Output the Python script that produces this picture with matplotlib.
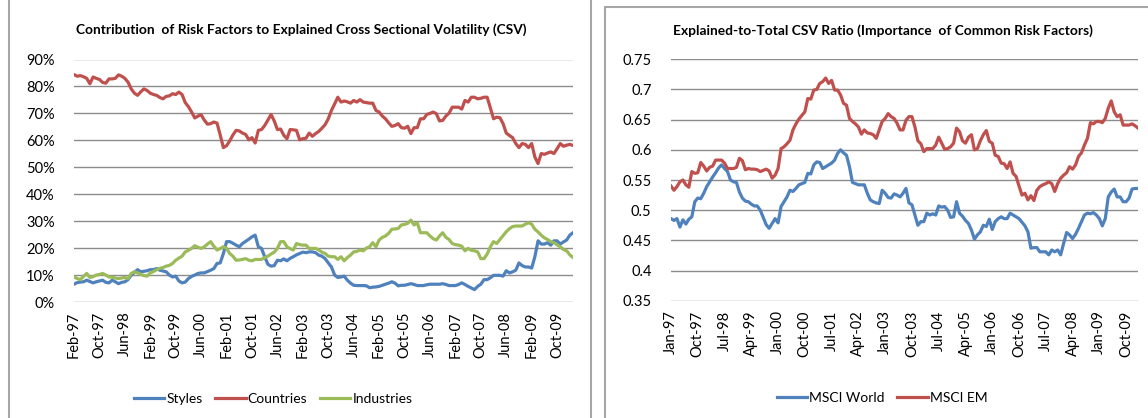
import numpy as np
import pandas as pd
import matplotlib
matplotlib.use('Agg')
import matplotlib.pyplot as plt
from matplotlib.patches import Rectangle
from matplotlib.ticker import FuncFormatter

plt.rcParams['font.family'] = ['Lato', 'DejaVu Sans']

# ---- left chart: contribution of risk factors (monthly, from Feb-97) ----
countries = [84.4, 83.8, 84.0, 83.6, 83.0, 81.0, 83.5, 83.0, 82.6, 81.5,
             81.2, 82.8, 82.8, 83.0, 84.3, 83.8, 83.0, 81.6, 79.1, 77.5,
             76.7, 78.0, 79.1, 78.5, 77.5, 77.0, 76.7, 75.9, 75.4, 76.3,
             76.5, 77.3, 77.0, 77.9, 77.0, 74.0, 72.5, 70.5, 68.3, 69.0,
             69.5, 67.5, 66.0, 66.2, 66.8, 66.4, 62.0, 57.3, 58.0, 59.8,
             62.0, 63.7, 63.5, 62.7, 62.2, 60.2, 61.0, 59.0, 63.7, 64.0,
             65.5, 67.5, 69.6, 67.2, 64.0, 64.2, 61.9, 60.6, 64.0, 63.9,
             63.7, 60.2, 60.6, 60.8, 62.7, 61.5, 62.5, 63.3, 64.5, 65.8,
             68.0, 71.1, 73.5, 76.0, 74.2, 74.6, 74.3, 73.8, 74.8, 74.2,
             75.1, 74.2, 74.0, 73.8, 73.8, 71.1, 70.5, 69.0, 68.0, 66.5,
             65.2, 65.5, 66.2, 64.7, 64.5, 65.2, 62.5, 64.7, 64.7, 68.0,
             68.0, 69.6, 70.0, 70.5, 69.9, 67.2, 67.4, 69.0, 70.1, 72.3,
             72.3, 72.3, 71.6, 74.8, 74.2, 76.0, 76.0, 75.4, 75.6, 76.0,
             76.0, 72.0, 68.0, 68.6, 68.4, 66.2, 62.7, 61.8, 61.0, 58.8,
             57.3, 58.8, 58.5, 57.3, 58.8, 53.8, 51.4, 55.1, 54.8, 55.3,
             55.7, 55.1, 56.9, 58.8, 57.8, 58.2, 58.5, 58.1]

styles = [6.6, 7.2, 7.4, 7.5, 8.1, 7.6, 7.1, 7.5, 7.8, 8.1,
          7.3, 7.1, 8.1, 7.5, 6.8, 7.3, 7.5, 8.3, 9.9, 11.0,
          12.0, 11.2, 11.4, 11.6, 12.0, 12.0, 12.4, 11.8, 11.5, 11.2,
          10.0, 9.3, 9.6, 7.8, 7.1, 7.4, 8.7, 9.5, 10.0, 10.6,
          10.8, 10.8, 11.3, 11.8, 12.4, 14.3, 14.5, 18.0, 22.4, 22.4,
          21.8, 21.1, 20.5, 21.7, 22.5, 23.3, 24.2, 24.8, 20.5, 19.9,
          16.8, 14.0, 13.3, 13.5, 15.5, 15.3, 16.0, 15.3, 16.2, 16.8,
          17.5, 18.0, 18.5, 18.3, 18.6, 18.6, 18.3, 17.4, 17.0, 16.1,
          14.5, 13.0, 10.0, 9.1, 9.3, 9.6, 8.1, 7.0, 6.2, 6.1,
          6.1, 6.1, 6.0, 5.3, 5.5, 5.6, 5.8, 6.2, 6.6, 7.0,
          7.5, 7.0, 6.0, 6.2, 6.2, 6.5, 6.8, 6.5, 6.1, 6.1,
          6.1, 6.4, 6.6, 6.6, 6.6, 6.6, 6.8, 6.5, 6.1, 6.1,
          6.1, 6.5, 7.1, 6.5, 5.8, 5.2, 4.6, 5.8, 6.6, 8.3,
          8.3, 9.0, 9.9, 9.9, 9.9, 9.6, 11.6, 10.8, 11.2, 11.8,
          14.5, 13.5, 13.0, 13.0, 12.6, 16.8, 22.7, 21.5, 21.5, 22.0,
          21.1, 22.7, 22.7, 21.5, 22.3, 23.0, 24.8, 25.7]

industries = [9.3, 8.7, 8.3, 9.5, 10.6, 9.1, 9.4, 10.0, 10.2, 10.6,
              10.0, 9.3, 9.2, 8.9, 8.7, 8.9, 9.1, 8.7, 10.6, 11.2,
              10.8, 10.3, 9.8, 9.6, 10.8, 11.3, 12.0, 12.5, 12.8, 13.3,
              13.6, 14.3, 15.5, 16.3, 17.0, 18.6, 19.2, 19.9, 20.9, 20.3,
              19.9, 20.5, 21.5, 22.4, 20.7, 19.3, 19.8, 20.5, 19.9, 18.0,
              17.0, 15.5, 15.6, 15.8, 16.1, 15.5, 15.3, 15.8, 15.8, 15.8,
              16.5, 17.0, 17.8, 18.5, 19.9, 22.4, 22.4, 20.5, 19.8, 19.3,
              21.7, 21.3, 21.1, 21.1, 19.9, 19.9, 19.9, 19.3, 18.5, 18.0,
              17.0, 16.8, 16.8, 15.8, 16.8, 15.3, 16.5, 17.4, 18.6, 18.8,
              19.3, 19.0, 20.0, 20.5, 22.0, 20.5, 23.0, 24.0, 24.5, 25.5,
              27.0, 27.1, 27.3, 28.6, 28.8, 29.2, 30.4, 28.6, 29.4, 25.7,
              25.7, 25.7, 24.5, 23.5, 23.0, 24.5, 25.7, 24.0, 23.2, 21.7,
              21.3, 21.1, 20.7, 19.0, 19.9, 19.2, 19.0, 18.6, 16.1, 16.1,
              17.8, 20.5, 22.4, 21.7, 23.2, 24.6, 26.1, 27.2, 28.0, 28.2,
              28.2, 28.2, 28.9, 29.4, 28.9, 27.0, 26.0, 24.8, 23.8, 23.2,
              22.4, 22.0, 21.2, 20.5, 19.5, 19.0, 17.5, 16.5]

# ---- right chart: explained-to-total CSV ratio (monthly, from Jan-97) ----
msci_world = [.486, .483, .486, .472, .484, .477, .485, .489, .514, .520,
              .519, .528, .539, .547, .555, .562, .570, .575, .569, .564,
              .550, .547, .546, .530, .520, .515, .514, .510, .507, .507,
              .500, .488, .476, .470, .478, .486, .479, .506, .514, .522,
              .533, .531, .536, .542, .544, .546, .561, .560, .575, .580,
              .579, .569, .572, .575, .578, .583, .594, .600, .595, .591,
              .572, .546, .544, .542, .542, .542, .528, .517, .514, .512,
              .511, .533, .528, .521, .520, .527, .525, .522, .528, .536,
              .512, .509, .492, .475, .481, .481, .495, .492, .494, .492,
              .507, .505, .506, .500, .488, .489, .514, .495, .490, .483,
              .478, .467, .452, .459, .464, .475, .473, .485, .468, .481,
              .486, .489, .486, .486, .495, .492, .489, .486, .480, .474,
              .464, .437, .438, .438, .431, .431, .431, .426, .434, .431,
              .434, .426, .445, .463, .459, .453, .460, .470, .481, .492,
              .495, .494, .496, .492, .486, .474, .486, .522, .530, .535,
              .522, .522, .514, .514, .520, .535, .536, .536]

msci_em = [.540, .533, .539, .547, .550, .542, .538, .564, .561, .562,
           .579, .573, .565, .571, .573, .583, .583, .583, .578, .569,
           .569, .569, .571, .586, .582, .567, .569, .568, .568, .567,
           .564, .566, .568, .565, .553, .558, .569, .602, .605, .610,
           .616, .633, .643, .651, .657, .663, .685, .684, .699, .700,
           .710, .713, .719, .710, .715, .699, .699, .691, .677, .674,
           .652, .647, .643, .638, .626, .633, .628, .627, .625, .619,
           .633, .647, .652, .660, .655, .652, .644, .633, .633, .649,
           .655, .655, .638, .615, .610, .597, .602, .602, .602, .608,
           .621, .611, .601, .602, .605, .611, .636, .630, .615, .611,
           .621, .625, .600, .602, .615, .625, .632, .614, .611, .591,
           .589, .578, .577, .569, .580, .561, .556, .540, .525, .528,
           .517, .524, .516, .533, .539, .542, .544, .547, .544, .531,
           .544, .553, .558, .562, .572, .568, .575, .589, .595, .608,
           .619, .645, .643, .647, .647, .645, .652, .669, .681, .663,
           .655, .658, .641, .641, .641, .643, .640, .636]

left_dates = pd.date_range('1997-02-01', periods=len(countries), freq='MS')
right_dates = pd.date_range('1997-01-01', periods=len(msci_world), freq='MS')

BLUE = '#4F81BD'
RED = '#C0504D'
GREEN = '#9BBB59'
GRID = '#8C8C8C'

W, H = 1148, 418
fig = plt.figure(figsize=(W / 100, H / 100), dpi=100)


def px_axes(x0, x1, ytop, ybot):
    return fig.add_axes([x0 / W, 1 - ybot / H, (x1 - x0) / W, (ybot - ytop) / H])


def style_axes(ax):
    for s in ax.spines.values():
        s.set_visible(False)
    ax.yaxis.grid(True, color=GRID, linewidth=1.0)
    ax.set_axisbelow(True)
    ax.tick_params(length=0, labelsize=10.5, colors='#000000')
    ax.tick_params(axis='y', pad=14)
    ax.tick_params(axis='x', pad=7)


# panel frames
fig.add_artist(Rectangle((9 / W, -0.05), (591 - 9) / W, 1.2, transform=fig.transFigure,
                         fill=False, edgecolor='#A6A6A6', linewidth=1.5))
fig.add_artist(Rectangle((605 / W, -0.05), 0.6, 1 - 7 / H + 0.05, transform=fig.transFigure,
                         fill=False, edgecolor='#A6A6A6', linewidth=1.5))

# left chart
ax1 = px_axes(74, 573, 59.5, 302)
xs = np.arange(len(left_dates))
ax1.plot(xs, np.array(styles) / 100, color=BLUE, lw=2.3, label='Styles')
ax1.plot(xs, np.array(countries) / 100, color=RED, lw=2.3, label='Countries')
ax1.plot(xs, np.array(industries) / 100, color=GREEN, lw=2.3, label='Industries')
ax1.set_ylim(0, 0.9)
ax1.set_yticks(np.arange(0, 0.91, 0.1))
ax1.yaxis.set_major_formatter(FuncFormatter(lambda v, p: f'{v * 100:.0f}%'))
ax1.set_xlim(0, len(xs) - 1)
ticks1 = xs[::8]
ax1.set_xticks(ticks1)
ax1.set_xticklabels([left_dates[i].strftime('%b-%y') for i in ticks1], rotation=90)
style_axes(ax1)
fig.text(301 / W, 1 - 30 / H, 'Contribution  of Risk Factors to Explained Cross Sectional Volatility (CSV)',
         ha='center', va='center', fontsize=9.9, fontweight='bold')
fig.legend(handles=ax1.get_lines(), loc='center', bbox_to_anchor=(273 / W, 1 - 399 / H),
           ncol=3, frameon=False, fontsize=10, handlelength=2.2, handletextpad=0.15,
           columnspacing=0.9)

# right chart
ax2 = px_axes(671, 1138, 59.3, 300.7)
xr = np.arange(len(right_dates))
ax2.plot(xr, msci_world, color=BLUE, lw=2.3, label='MSCI World')
ax2.plot(xr, msci_em, color=RED, lw=2.3, label='MSCI EM')
ax2.set_ylim(0.35, 0.75)
ax2.set_yticks(np.arange(0.35, 0.751, 0.05))
ax2.yaxis.set_major_formatter(FuncFormatter(lambda v, p: f'{v:.2f}'.rstrip('0')))
ax2.set_xlim(0, len(xr) - 1)
ticks2 = xr[::9]
ax2.set_xticks(ticks2)
ax2.set_xticklabels([right_dates[i].strftime('%b-%y') for i in ticks2], rotation=90)
style_axes(ax2)
fig.text(883 / W, 1 - 31 / H, 'Explained-to-Total CSV Ratio (Importance  of Common Risk Factors)',
         ha='center', va='center', fontsize=9.9, fontweight='bold')
fig.legend(handles=ax2.get_lines(), loc='center', bbox_to_anchor=(882 / W, 1 - 398 / H),
           ncol=2, frameon=False, fontsize=10, handlelength=2.2, handletextpad=0.15,
           columnspacing=0.9)

fig.savefig('out.png', dpi=100)
